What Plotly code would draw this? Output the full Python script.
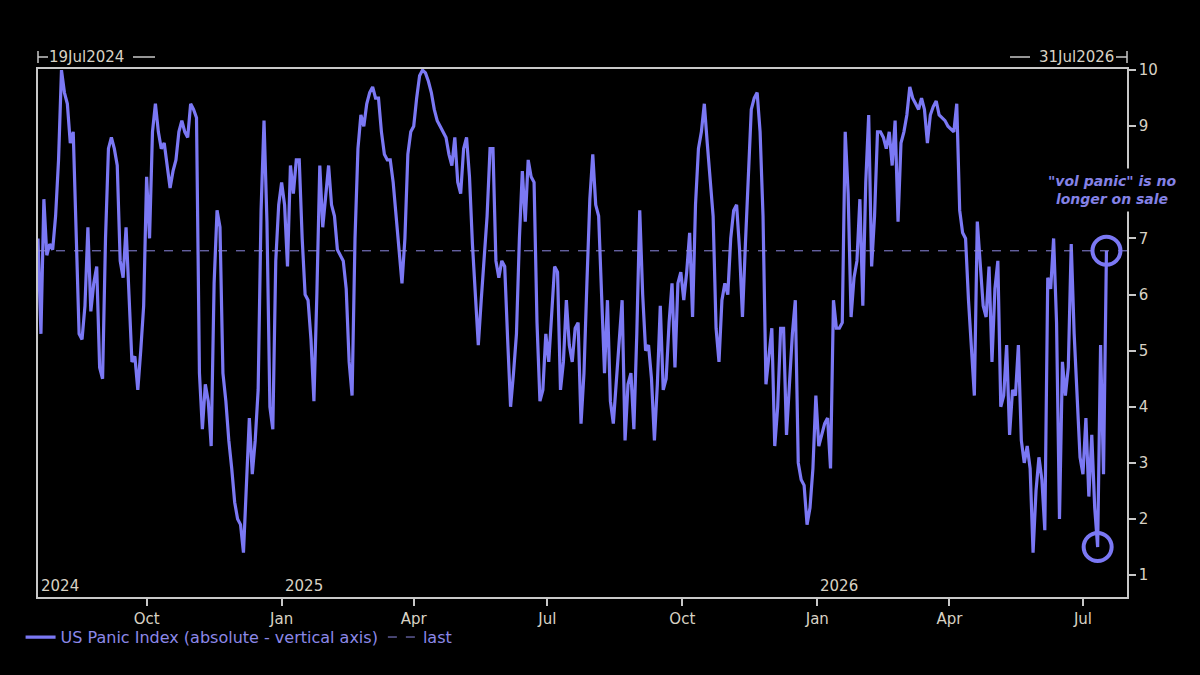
import numpy as np
import pandas as pd
import plotly.graph_objects as go

start_date = "2024-07-19"
range_end = "2026-07-31"
series_name = "US Panic Index (absolute - vertical axis)"
last_name = "last"
values = [
    7.0, 5.3, 7.7, 6.7, 6.9, 6.8, 7.4, 8.4, 10.0, 9.6,
    9.4, 8.7, 8.9, 7.0, 5.3, 5.2, 5.8, 7.2, 5.7, 6.2,
    6.5, 4.7, 4.5, 7.0, 8.6, 8.8, 8.6, 8.3, 6.6, 6.3,
    7.2, 6.0, 4.8, 4.9, 4.3, 5.0, 5.8, 8.1, 7.0, 8.9,
    9.4, 8.9, 8.6, 8.7, 8.3, 7.9, 8.2, 8.4, 8.9, 9.1,
    8.9, 8.8, 9.4, 9.3, 9.15, 4.6, 3.6, 4.4, 4.1, 3.3,
    6.2, 7.5, 7.2, 4.6, 4.1, 3.4, 2.9, 2.3, 2.0, 1.9,
    1.4, 2.5, 3.8, 2.8, 3.4, 4.3, 7.5, 9.1, 7.3, 4.0,
    3.6, 6.6, 7.6, 8.0, 7.6, 6.5, 8.3, 7.8, 8.4, 8.4,
    7.0, 6.0, 5.9, 5.2, 4.1, 6.0, 8.3, 7.2, 7.8, 8.3,
    7.6, 7.4, 6.8, 6.7, 6.6, 6.1, 4.8, 4.2, 7.0, 8.6,
    9.2, 9.0, 9.4, 9.6, 9.7, 9.5, 9.5, 8.9, 8.5, 8.4,
    8.4, 8.0, 7.4, 6.9, 6.2, 7.0, 8.5, 8.9, 9.0, 9.5,
    9.9, 10.0, 9.95, 9.8, 9.6, 9.3, 9.1, 9.0, 8.9, 8.8,
    8.5, 8.3, 8.8, 8.0, 7.8, 8.6, 8.8, 8.1, 6.9, 6.0,
    5.1, 5.9, 6.6, 7.4, 8.6, 8.6, 6.6, 6.3, 6.6, 6.5,
    5.2, 4.0, 4.6, 5.3, 7.0, 8.2, 7.3, 8.4, 8.1, 8.0,
    5.5, 4.1, 4.3, 5.3, 4.8, 5.6, 6.5, 6.4, 4.3, 4.8,
    5.9, 5.1, 4.8, 5.4, 5.5, 3.7, 4.6, 6.2, 7.7, 8.5,
    7.6, 7.4, 5.8, 4.6, 5.9, 4.1, 3.7, 4.4, 5.2, 5.9,
    3.4, 4.4, 4.6, 3.6, 5.3, 7.5, 6.0, 5.0, 5.1, 4.5,
    3.4, 4.4, 5.8, 4.3, 4.5, 5.5, 6.2, 4.7, 6.2, 6.4,
    5.9, 6.4, 7.1, 5.6, 7.6, 8.6, 8.9, 9.4, 8.7, 8.0,
    7.4, 5.4, 4.8, 5.9, 6.2, 6.0, 7.0, 7.5, 7.6, 6.8,
    5.6, 6.9, 8.2, 9.3, 9.5, 9.6, 8.9, 7.4, 4.4, 4.9,
    5.4, 3.3, 4.0, 5.4, 5.4, 3.5, 4.4, 5.3, 5.9, 3.0,
    2.7, 2.6, 1.9, 2.2, 2.9, 4.2, 3.3, 3.5, 3.7, 3.8,
    2.9, 5.9, 5.4, 5.4, 5.5, 8.9, 7.8, 5.6, 6.3, 6.6,
    7.7, 5.8, 8.0, 9.2, 6.5, 7.4, 8.9, 8.9, 8.8, 8.6,
    8.9, 8.3, 9.1, 7.3, 8.7, 8.9, 9.2, 9.7, 9.5, 9.4,
    9.3, 9.5, 9.3, 8.7, 9.2, 9.35, 9.45, 9.2, 9.15, 9.1,
    9.0, 8.95, 8.9, 9.4, 7.5, 7.1, 7.0, 5.9, 5.0, 4.2,
    7.3, 6.6, 5.8, 5.6, 6.5, 4.8, 6.1, 6.6, 4.0, 4.2,
    5.1, 3.5, 4.3, 4.2, 5.1, 3.4, 3.0, 3.3, 2.9, 1.4,
    2.5, 3.1, 2.7, 1.8, 6.3, 6.1, 7.0, 5.5, 2.0, 4.8,
    4.2, 4.7, 6.9, 5.3, 4.2, 3.1, 2.8, 3.8, 2.4, 3.5,
    2.2, 1.5, 5.1, 2.8, 6.78,
]
# the "8" tick is hidden behind the note in the reference
y_ticks = [1, 2, 3, 4, 5, 6, 7, 9, 10]
year_labels = ["2024", "2025", "2026"]
year_dates = ["2024-07-19", "2025-01-01", "2026-01-01"]
note_text = '"vol panic" is no<br>longer on sale'

dates = pd.date_range(start_date, periods=len(values), freq="2D")
vals = np.array(values)
last_val = vals[-1]
tail = 6
min_idx = len(vals) - tail + int(np.argmin(vals[-tail:]))

LINE = "#7b78f4"
TXT = "#d8d2c4"
FONT = "DejaVu Sans"

fig = go.Figure()
fig.add_trace(go.Scatter(
    x=dates, y=vals, mode="lines", name=series_name,
    line=dict(color=LINE, width=3.2), showlegend=True))
fig.add_trace(go.Scatter(
    x=[pd.Timestamp(start_date), pd.Timestamp(range_end)], y=[last_val, last_val],
    mode="lines", name=last_name,
    line=dict(color="#8c88e0", width=1, dash="dash")))
# highlight circles
fig.add_trace(go.Scatter(
    x=[dates[-1], dates[min_idx]], y=[last_val, vals[min_idx]],
    mode="markers", showlegend=False,
    marker=dict(symbol="circle-open", size=28, color=LINE,
                line=dict(color=LINE, width=4))))

fig.update_layout(
    width=1200, height=675,
    paper_bgcolor="black", plot_bgcolor="black",
    margin=dict(l=38, r=73, t=69, b=78),
    font=dict(family=FONT, size=13, color=TXT),
    showlegend=True,
    legend=dict(orientation="h", x=-0.016, xanchor="left", y=-0.076, yanchor="middle",
                font=dict(color="#8c88e8", size=16, family=FONT),
                bgcolor="rgba(0,0,0,0)", itemwidth=30, tracegroupgap=0),
)
fig.update_xaxes(
    type="date", range=[start_date, range_end],
    showgrid=False, zeroline=False,
    showline=True, linecolor="#c8c8c8", linewidth=1.5, mirror=True,
    ticks="outside", ticklen=7, tickcolor="#c8c8c8", tickwidth=1.5,
    tick0="2024-01-01", dtick="M3", tickformat="%b",
    tickfont=dict(color=TXT, size=15, family=FONT),
)
fig.update_yaxes(
    range=[0.61, 10.02], side="right",
    showgrid=False, zeroline=False,
    showline=True, linecolor="#c8c8c8", linewidth=1.5, mirror=True,
    ticks="outside", ticklen=7, tickcolor="#c8c8c8", tickwidth=1.5,
    tickvals=y_ticks, ticktext=[str(t) for t in y_ticks],
    tickfont=dict(color=TXT, size=15, family=FONT),
)

# year labels inside plot, bottom
for lab, d in zip(year_labels, year_dates):
    fig.add_annotation(x=d, xref="x", y=0, yref="paper", text=lab,
                       xanchor="left", yanchor="bottom", showarrow=False,
                       xshift=1, yshift=0,
                       font=dict(color=TXT, size=15, family=FONT))

# top date-range markers
fig.add_annotation(x=start_date, xref="x", y=1.0227, yref="paper", text="19Jul2024",
                   xanchor="left", yanchor="middle", showarrow=False, xshift=9,
                   font=dict(color=TXT, size=15, family=FONT))
fig.add_annotation(x=range_end, xref="x", y=1.0227, yref="paper", text="31Jul2026",
                   xanchor="right", yanchor="middle", showarrow=False, xshift=-11,
                   font=dict(color=TXT, size=15, family=FONT))
lc = dict(color="#c8c8c8", width=1.5)
px = lambda p: (p - 38) / 1089.0
py = lambda p: (597 - p) / 528.0
fig.add_shape(type="line", xref="paper", yref="paper", x0=px(38), x1=px(38), y0=py(51), y1=py(63), line=lc)
fig.add_shape(type="line", xref="paper", yref="paper", x0=px(38), x1=px(48), y0=py(57), y1=py(57), line=lc)
fig.add_shape(type="line", xref="paper", yref="paper", x0=px(133), x1=px(155), y0=py(57), y1=py(57), line=lc)
fig.add_shape(type="line", xref="paper", yref="paper", x0=px(1010), x1=px(1030), y0=py(57), y1=py(57), line=lc)
fig.add_shape(type="line", xref="paper", yref="paper", x0=px(1116), x1=px(1127), y0=py(57), y1=py(57), line=lc)
fig.add_shape(type="line", xref="paper", yref="paper", x0=px(1127), x1=px(1127), y0=py(51), y1=py(63), line=lc)

# note
fig.add_annotation(x=px(1112), xref="paper", y=py(190), yref="paper", text=note_text,
                   showarrow=False, xanchor="center", yanchor="middle",
                   bgcolor="black", borderpad=4,
                   font=dict(color="#8482e6", size=14, family=FONT,
                             weight="bold", style="italic"))

fig.write_html("out.html", config={"displayModeBar": False},
               post_script="document.body.style.margin='0';document.body.style.background='black';")
